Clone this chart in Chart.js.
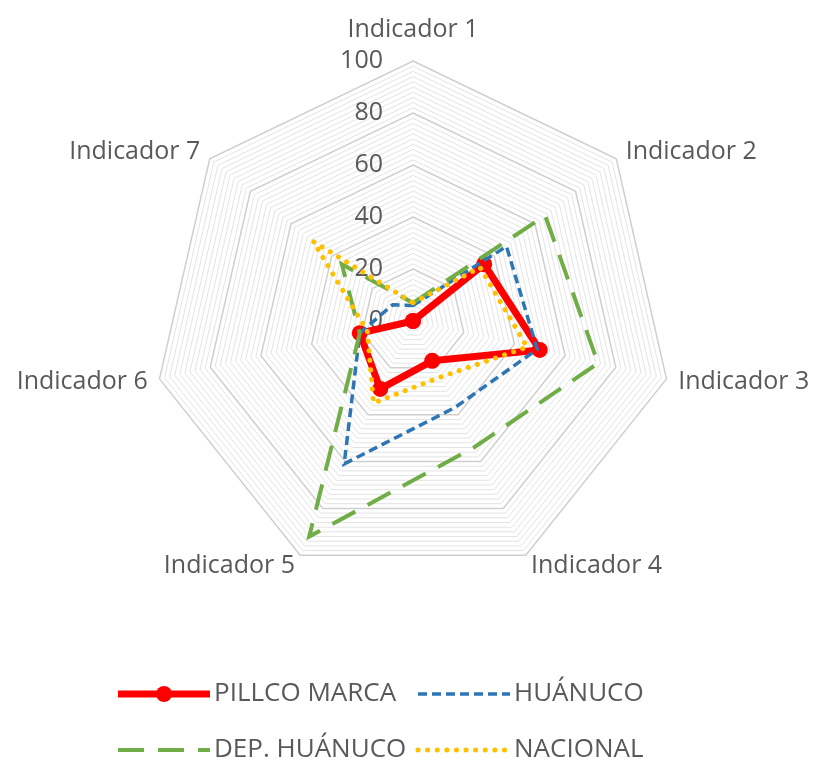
<!DOCTYPE html>
<html>
<head>
<meta charset="utf-8">
<script src="https://cdn.jsdelivr.net/npm/chart.js@4.4.1/dist/chart.umd.min.js"></script>
<style>
  html, body { margin: 0; padding: 0; background: #fff; }
  #wrap { width: 817px; height: 765px; position: relative; }
</style>
</head>
<body>
<div id="wrap"><canvas id="radar"></canvas></div>
<script>
const indicadores = ["Indicador 1", "Indicador 2", "Indicador 3", "Indicador 4", "Indicador 5", "Indicador 6", "Indicador 7"];
const seriesNames = ["PILLCO MARCA", "HUÁNUCO", "DEP. HUÁNUCO", "NACIONAL"];
const pillcoMarca = [0, 35, 50, 17, 29, 21, 0];
const huanuco = [6, 46, 49, 37, 61, 21, 10];
const depHuanuco = [7, 65, 73, 54, 92, 21, 35];
const nacional = [7, 33, 45, 24, 35, 18, 49];
const tickLabels = [0, 20, 40, 60, 80, 100];

const TEXT = "#595959";
const FONT = "25px 'Open Sans'";
const LEGEND_FONT = "26px 'Open Sans'";

// tick labels, point labels and legend drawn by hand to sit where Excel puts them
const overlay = {
    id: 'overlay',
    beforeDatasetsDraw(chart) {
        const ctx = chart.ctx;
        const s = chart.scales.r;
        ctx.save();
        ctx.font = FONT;
        ctx.fillStyle = TEXT;
        ctx.textAlign = 'right';
        ctx.textBaseline = 'middle';
        tickLabels.forEach(v => {
            ctx.fillText(String(v), s.xCenter - 30, s.yCenter - s.getDistanceFromCenterForValue(v));
        });
        ctx.restore();
    },
    afterDraw(chart) {
        const ctx = chart.ctx;
        const s = chart.scales.r;
        ctx.save();
        ctx.font = FONT;
        ctx.fillStyle = TEXT;
        ctx.textBaseline = 'middle';
        indicadores.forEach((lab, i) => {
            const p = s.getPointPosition(i, s.drawingArea + 12);
            const dx = p.x - s.xCenter;
            const align = Math.abs(dx) < 2 ? 'center' : (dx > 0 ? 'left' : 'right');
            ctx.textAlign = align;
            ctx.fillText(lab, p.x, align === 'center' ? p.y - 19 : p.y);
        });

        // legend
        ctx.font = LEGEND_FONT;
        const cols = [118, 418];
        const rows = [694, 750];
        const symW = 92;
        chart.data.datasets.forEach((ds, i) => {
            const x = cols[i % 2];
            const y = rows[Math.floor(i / 2)];
            ctx.save();
            ctx.strokeStyle = ds.borderColor;
            ctx.lineWidth = ds.borderWidth;
            ctx.lineCap = ds.borderCapStyle || 'butt';
            ctx.setLineDash(ds.borderDash || []);
            ctx.beginPath();
            ctx.moveTo(x, y);
            ctx.lineTo(x + symW, y);
            ctx.stroke();
            if (ds.pointRadius > 0) {
                ctx.setLineDash([]);
                ctx.fillStyle = ds.pointBackgroundColor;
                ctx.beginPath();
                ctx.arc(x + symW / 2, y, ds.pointRadius, 0, Math.PI * 2);
                ctx.fill();
            }
            ctx.restore();
            ctx.textAlign = 'left';
            ctx.fillText(ds.label, x + symW + 4, y);
        });
        ctx.restore();
    }
};

const ctx = document.getElementById("radar").getContext("2d");

new Chart(ctx, {
    type: "radar",
    data: {
        labels: indicadores,
        datasets: [
            {
                label: seriesNames[0],
                data: pillcoMarca,
                borderColor: "#FF0000",
                backgroundColor: "#FF0000",
                pointBackgroundColor: "#FF0000",
                pointBorderWidth: 0,
                pointRadius: 8,
                borderWidth: 7,
                borderJoinStyle: 'round',
                fill: false,
                order: 4,
            },
            {
                label: seriesNames[1],
                data: huanuco,
                borderColor: "#2E75B6",
                borderWidth: 3.5,
                borderDash: [9, 5],
                pointRadius: 0,
                fill: false,
                order: 3,
            },
            {
                label: seriesNames[2],
                data: depHuanuco,
                borderColor: "#70AD47",
                borderWidth: 4,
                borderDash: [26, 14],
                pointRadius: 0,
                fill: false,
                order: 2,
            },
            {
                label: seriesNames[3],
                data: nacional,
                borderColor: "#FFC000",
                borderWidth: 5,
                borderDash: [0.1, 9.5],
                borderCapStyle: 'round',
                pointRadius: 0,
                fill: false,
                order: 1,
            },
        ]
    },
    options: {
        responsive: true,
        maintainAspectRatio: false,
        animation: false,
        layout: {
            padding: { left: 153, right: 144, top: 61, bottom: 184 }
        },
        elements: { line: { tension: 0 } },
        scales: {
            r: {
                min: 0,
                max: 100,
                ticks: { stepSize: 2, maxTicksLimit: 60, display: false },
                grid: {
                    color: c => Math.round(c.tick.value) % 20 === 0 ? "#cfcfcf" : "#e3e3e3",
                    lineWidth: c => Math.round(c.tick.value) % 20 === 0 ? 1.5 : 1,
                },
                angleLines: { display: false },
                pointLabels: { display: false },
            }
        },
        plugins: {
            legend: { display: false },
            tooltip: { enabled: false },
        },
    },
    plugins: [overlay],
});
</script>
</body>
</html>
